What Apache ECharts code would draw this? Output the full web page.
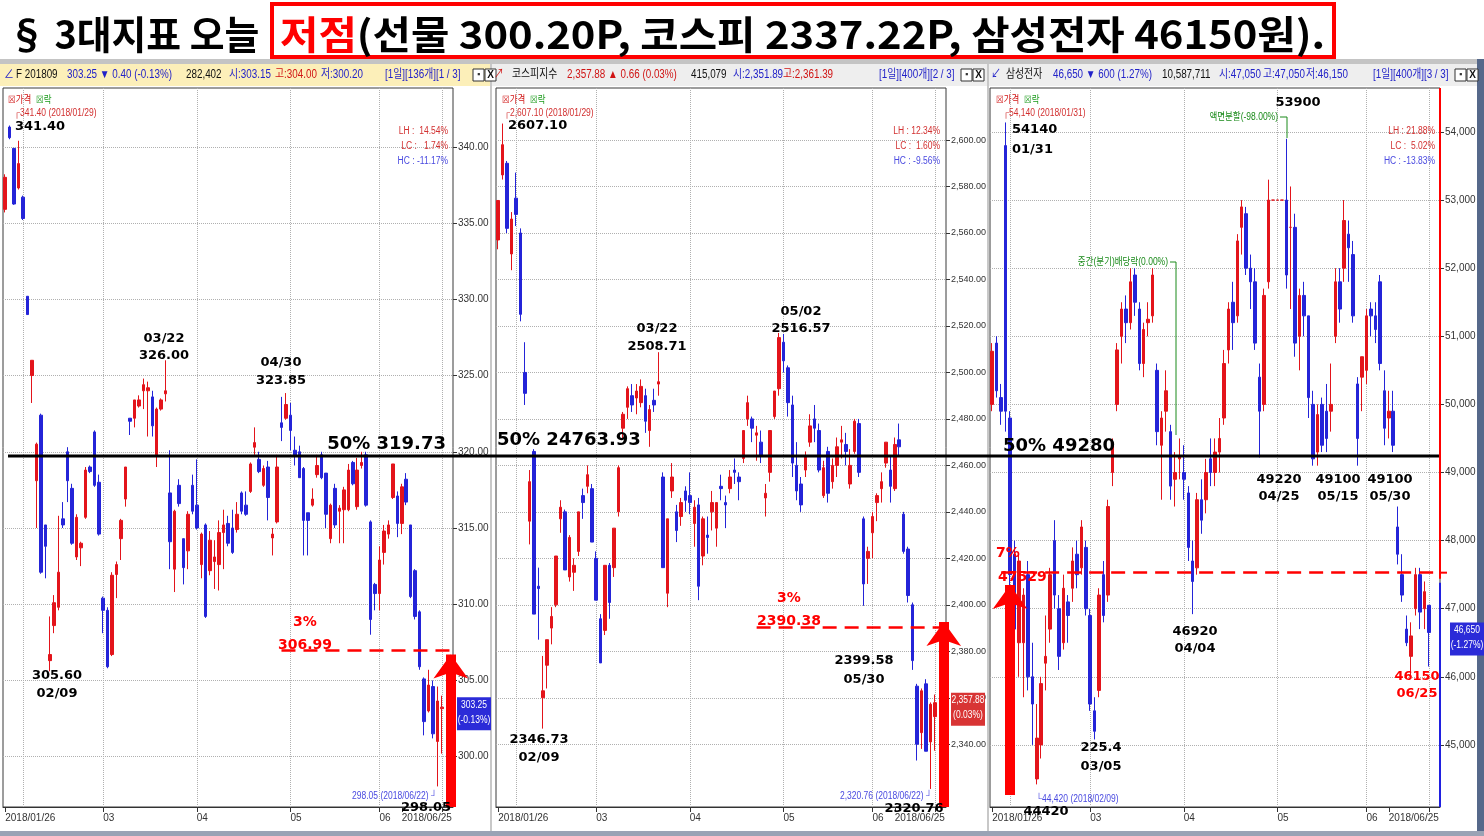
<!DOCTYPE html>
<html><head><meta charset="utf-8">
<script src="https://cdn.jsdelivr.net/npm/echarts@6/dist/echarts.min.js"></script>
<style>html,body{margin:0;padding:0;background:#fff}#c{width:1484px;height:836px}</style>
</head><body><div id="c"></div><script>
// ---------- DATA ----------
const dates = [
 '2018/01/26','2018/01/29','2018/01/30','2018/01/31',
 '2018/02/01','2018/02/02','2018/02/05','2018/02/06','2018/02/07','2018/02/08','2018/02/09','2018/02/12','2018/02/13','2018/02/14','2018/02/19','2018/02/20','2018/02/21','2018/02/22','2018/02/23','2018/02/26','2018/02/27','2018/02/28',
 '2018/03/02','2018/03/05','2018/03/06','2018/03/07','2018/03/08','2018/03/09','2018/03/12','2018/03/13','2018/03/14','2018/03/15','2018/03/16','2018/03/19','2018/03/20','2018/03/21','2018/03/22','2018/03/23','2018/03/26','2018/03/27','2018/03/28','2018/03/29','2018/03/30',
 '2018/04/02','2018/04/03','2018/04/04','2018/04/05','2018/04/06','2018/04/09','2018/04/10','2018/04/11','2018/04/12','2018/04/13','2018/04/16','2018/04/17','2018/04/18','2018/04/19','2018/04/20','2018/04/23','2018/04/24','2018/04/25','2018/04/26','2018/04/27','2018/04/30',
 '2018/05/02','2018/05/03','2018/05/04','2018/05/08','2018/05/09','2018/05/10','2018/05/11','2018/05/14','2018/05/15','2018/05/16','2018/05/17','2018/05/18','2018/05/21','2018/05/23','2018/05/24','2018/05/25','2018/05/28','2018/05/29','2018/05/30','2018/05/31',
 '2018/06/01','2018/06/04','2018/06/05','2018/06/07','2018/06/08','2018/06/11','2018/06/12','2018/06/14','2018/06/15','2018/06/18','2018/06/19','2018/06/20','2018/06/21','2018/06/22','2018/06/25'
];
// [open, close, low, high]
const futuresOHLC = [
 [335.9,338.0,335.7,338.2],[341.3,340.6,340.5,341.4],[339.9,336.25,336.2,339.9],[337.3,338.9,337.2,340.4],
 [336.7,335.3,335.2,336.8],[330.2,329.0,329.0,330.2],[325.0,326.0,323.2,326.0],[318.1,320.5,315.0,320.6],[322.4,312.1,312.0,322.5],[315.2,313.8,311.7,315.2],[306.3,306.7,305.6,309.2],[308.6,310.1,308.1,310.6],[309.8,312.1,309.6,315.8],[315.6,315.2,315.0,316.7],[320.0,318.1,316.7,320.3],[317.6,314.0,313.9,317.9],[313.1,315.7,312.9,315.9],[313.7,314.0,312.5,314.1],[315.7,318.8,315.6,319.0],[319.0,318.7,318.6,319.1],[321.3,317.8,317.7,321.4],[318.0,314.6,314.5,318.5],
 [310.4,309.6,308.1,310.5],[309.6,305.9,305.8,309.8],[306.7,311.9,306.6,312.1],[311.95,312.6,310.4,312.8],[314.3,315.5,312.9,315.6],[316.9,319.0,316.4,319.0],[322.2,322.0,321.1,322.2],[322.2,323.4,321.6,323.4],[323.0,323.4,322.9,323.7],[324.0,324.4,322.8,324.8],[324.0,324.2,321.0,324.6],[323.6,321.7,321.0,324.0],[319.8,322.8,319.0,322.9],[322.8,323.4,322.7,323.5],[323.8,324.0,323.3,326.0],[317.3,314.1,312.3,320.1],[312.3,316.1,310.8,316.2],[317.8,316.6,316.4,318.2],[314.3,312.4,311.3,314.3],[313.5,315.9,312.3,316.1],[317.8,316.1,315.9,318.5],
 [316.5,315.0,314.9,319.5],[312.6,314.6,311.7,314.7],[315.2,309.2,309.1,315.3],[312.2,314.2,311.9,314.8],[312.8,313.1,311.0,314.2],[312.6,314.7,310.9,315.5],[314.7,315.2,312.3,316.2],[315.3,314.0,313.8,315.8],[315.0,313.4,313.3,316.2],[314.9,315.9,314.7,316.7],[317.3,316.1,315.9,317.4],[316.5,315.9,315.8,317.4],[317.4,319.2,317.3,319.3],[320.3,320.6,319.8,321.6],[319.5,318.7,318.6,320.0],[317.8,318.9,317.7,319.1],[319.0,317.0,315.5,319.4],[314.35,314.6,313.2,315.0],[315.4,319.0,315.3,319.8],[321.9,321.6,320.7,323.6],[322.2,323.1,322.1,323.85],
 [322.4,321.4,320.1,323.2],[320.1,319.7,319.1,321.0],[320.0,318.3,318.3,320.4],[318.9,315.5,313.2,319.0],[316.0,315.5,313.2,316.0],[316.5,316.9,316.4,317.6],[318.5,319.1,318.3,319.8],[319.8,318.3,318.2,320.0],[318.6,315.9,315.0,318.6],[314.3,316.5,314.0,316.6],[317.6,315.2,315.0,317.9],[316.1,316.3,314.0,316.5],[316.2,317.5,314.0,317.7],[316.2,318.8,316.1,319.2],[319.3,317.9,317.8,319.4],[316.4,318.8,316.2,319.6],[319.1,319.3,318.9,320.0],[319.8,316.5,316.4,320.0],[315.4,309.0,308.0,315.5],[311.3,310.7,309.6,311.4],
 [310.7,312.9,309.6,313.8],[313.4,314.8,312.6,315.2],[314.6,315.2,314.3,315.5],[317.0,319.2,316.9,319.2],[317.1,315.3,314.4,317.4],[315.3,317.7,314.6,317.9],[318.2,316.7,316.5,318.6],[315.2,310.5,310.4,315.2],[312.2,309.2,309.0,312.3],[309.5,305.9,305.7,309.6],[305.1,302.3,301.4,305.2],[303.0,304.7,302.9,305.7],[304.6,301.5,301.2,305.0],[301.0,303.65,298.05,304.6],[303.15,303.25,300.2,304.0]
];
const kospiOHLC = [
 [2557,2574,2553,2574],[2585,2598,2583,2607.1],[2590,2562,2560,2591],[2551,2566,2544,2569],
 [2575,2568,2563,2586],[2560,2525,2522,2562],[2500,2491,2486,2513],[2436,2453,2426,2458],[2466,2396,2396,2467],[2408,2407,2385,2416],[2360,2363,2346.73,2378],[2374,2385,2364,2385],[2390,2395,2383,2399],[2400,2421,2399,2421],[2437,2442,2431,2445],[2440,2415,2415,2441],[2412,2429,2410,2430],[2414,2417,2406,2420],[2423,2440,2421,2440],[2447,2444,2437,2450],[2451,2456,2448,2460],[2450,2427,2427,2452],
 [2420,2402,2402,2423],[2394,2375,2375,2396],[2389,2417,2387,2417],[2417,2401,2394,2418],[2416,2433,2412,2433],[2440,2459,2438,2460],[2476,2482,2471,2483],[2485,2493,2480,2494],[2490,2486,2483,2495],[2489,2492,2482,2495],[2487,2494,2485,2497],[2490,2479,2474,2493],[2475,2484,2468,2486],[2488,2486,2483,2493],[2495,2496,2490,2508.71],[2455,2416,2416,2457],[2405,2437,2399,2437],[2449,2455,2446,2461],[2440,2432,2427,2443],[2438,2444,2434,2446],[2449,2445,2440,2451],
 [2447,2444,2439,2457],[2435,2442,2425,2445],[2443,2408,2402,2446],[2421,2437,2417,2438],[2430,2429,2422,2438],[2440,2444,2432,2449],[2433,2444,2425,2444],[2451,2450,2445,2456],[2444,2443,2433,2447],[2450,2455,2448,2458],[2458,2457,2452,2463],[2455,2453,2445,2457],[2463,2475,2461,2475],[2480,2487,2477,2490],[2480,2476,2470,2481],[2473,2474,2462,2477],[2470,2464,2461,2475],[2446,2448,2438,2452],[2457,2475,2453,2475],[2481,2492,2480,2492],[2493,2515,2490,2517],
 [2513,2505,2500,2516.57],[2502,2487,2481,2503],[2486,2461,2455,2490],[2460,2449,2445,2470],[2452,2443,2440,2455],[2458,2464,2455,2466],[2470,2477,2468,2482],[2480,2476,2470,2486],[2475,2458,2457,2478],[2447,2459,2446,2462],[2466,2448,2444,2468],[2453,2460,2450,2463],[2460,2468,2455,2472],[2470,2471,2463,2477],[2469,2466,2460,2474],[2452,2460,2450,2467],[2466,2479,2465,2480],[2478,2457,2455,2480],[2437,2409,2399.58,2438],[2420,2423,2409,2425],
 [2431,2438,2420,2440],[2444,2447,2436,2448],[2450,2453,2444,2457],[2461,2470,2459,2470],[2458,2451,2444,2464],[2450,2469,2449,2472],[2471,2468,2464,2478],[2439,2423,2422,2440],[2424,2404,2401,2425],[2400,2376,2372,2401],[2365,2340,2333,2366],[2345,2363,2338,2364],[2366,2337,2337,2368],[2341,2357.22,2320.76,2358],[2351.89,2357.88,2337.22,2361.39]
];
const samsungOHLC = [
 [50000,50780,49900,50900],[50900,50200,50100,51000],[50100,49900,49700,50300],[53800,49900,49600,54140],
 [49800,47500,47300,49900],[47800,46700,46500,48000],[46500,47700,46000,47800],[46500,47200,45700,47300],[47500,46000,45800,47700],[46000,45600,45000,46500],[44500,45100,44420,45600],[45000,45900,44800,46000],[46200,46300,45800,46900],[46700,47500,46500,47600],[48000,47200,47000,48300],[47000,46300,46100,47200],[46500,47300,46400,47500],[47100,46900,46500,47200],[47300,47700,47100,47900],[47800,47500,47300,48000],[47600,48200,47500,48300],[47900,47000,46900,48000],
 [46900,45600,45500,47000],[45500,45200,45080,45700],[45800,47200,45700,47300],[47500,46900,46800,47700],[47200,48500,47100,48600],[49000,49400,48800,49500],[50000,50800,49900,50900],[51000,51400,50600,51500],[51400,51200,50900,51600],[51200,51800,51100,52000],[51900,51500,51300,52000],[51400,50600,50500,51500],[50600,51100,50400,51200],[51200,51250,51000,51500],[51300,51900,51200,52000],[50500,49600,49400,50600],[49400,49800,48600,49900],[49900,50200,49600,50500],[49600,48800,48600,49700],[48900,49000,48500,49300],[49200,49250,48900,49500],
 [49000,48900,48600,49400],[48700,47900,47700,48800],[47700,47400,46920,48000],[47600,48600,47500,48700],[48600,48300,48100,48900],[48600,49000,48400,49200],[49200,49000,48800,49500],[49000,49300,48800,49500],[49300,49500,49000,49800],[49800,50600,49700,50800],[50800,51400,50600,51500],[51500,51200,50800,51800],[51300,52400,51200,52500],[52600,52900,52200,53000],[52800,52000,51900,52900],[52000,51800,51400,52200],[51800,50900,50800,52000],[50400,49900,49220,50600],[50000,51600,49900,51700],[51800,53000,51700,53300],[53000,53000,53000,53000],
 [53000,53000,53000,53000],[53000,53000,53000,53000],[53000,51900,51700,53900],[52600,52600,51400,53200],[52600,50900,50700,52800],[51000,51600,50500,51700],[51600,51300,51000,51800],[51300,50100,49800,51300],[50000,49200,49100,50200],[49300,49850,49100,50000],[50000,49400,49300,50100],[49900,49500,49300,50300],[49900,50000,49600,50600],[51000,51800,50900,52000],[51800,51400,51200,52000],[52000,52700,51800,53000],[52500,52300,51800,52700],[52200,51300,51200,52400],[50300,49500,49100,50400],[50400,50700,49900,50700],
 [50500,51300,50300,51400],[51400,51300,51000,51500],[51300,51100,50900,51500],[51800,50600,50500,51900],[50200,49650,49400,50500],[49800,49900,49500,50200],[49900,49400,49300,50200],[48200,47800,47650,48500],[47500,47200,47100,47800],[46700,46500,46450,46900],[46300,46600,46000,46800],[47000,47500,46900,47600],[47500,46950,46700,47600],[47000,47250,46700,47400],[47050,46650,46150,47050]
];
const futuresTicks = [300,305,310,315,320,325,330,335,340];
const kospiTicks = [2340,2360,2380,2400,2420,2440,2460,2480,2500,2520,2540,2560,2580,2600];
const samsungTicks = [45000,46000,47000,48000,49000,50000,51000,52000,53000,54000];
const yRanges = [[296.7,343.86],[2313,2622.4],[44088,54646]];
const fiftyPct = [319.73, 2476.39, 49280];
const dropLevels = [306.99, 2390.38, 47529];   // 3%, 3%, 7%
const lastPrice = [303.25, 2357.88, 46650];
const lastChange = ['(-0.13%)','(0.03%)','(-1.27%)'];
const lastPriceText = ['303.25','2,357.88','46,650'];

// ---------- CHART ----------
const UP = '#e3141b', DOWN = '#2424d8';
const cats = dates.concat(['', ' ']);
const N = dates.length;
const labelMap = {0: dates[0], 22:'03', 43:'04', 64:'05', 84:'06', 89: dates[N-1]};
const gridIdx = new Set([4,22,43,64,84,98]);
const grids = [
  {left:3, right:1031, top:88, bottom:29},
  {left:496, right:538, top:88, bottom:29},
  {left:990, right:44, top:88, bottom:29}
];
const FONT_AX = '"Liberation Sans",sans-serif';
const yFmt = [
  v => v.toFixed(2),
  v => v.toLocaleString('en-US',{minimumFractionDigits:2,maximumFractionDigits:2}),
  v => v.toLocaleString('en-US')
];
const yFont = [10, 9, 10];
const yTicks = [futuresTicks, kospiTicks, samsungTicks];
const seriesData = [futuresOHLC, kospiOHLC, samsungOHLC];
const arrowCfg = [ // [category index, start value, tip value]
  [100, yRanges[0][0], 306.7],
  [100, yRanges[1][0], 2392.6],
  [4, 44264, 47348]
];
const dashStart = [62, 58, 2];

const option = {
  animation:false,
  backgroundColor:'#ffffff',
  grid: grids.map(g => Object.assign({show:true, borderColor:'#3a3a3a', borderWidth:1, backgroundColor:'transparent'}, g)),
  xAxis: grids.map((g,i) => ({
    type:'category', gridIndex:i, data:cats, boundaryGap:true,
    axisLine:{show:true, lineStyle:{color:'#333'}},
    axisTick:{show:true, alignWithLabel:true, interval:(idx)=> (idx in labelMap) || idx===N-1, length:5, lineStyle:{color:'#333'}},
    axisLabel:{show:true, interval:(idx)=> idx in labelMap, formatter:(v,idx)=> labelMap[idx] || '', align:'left', margin:6,
      fontSize:10, color:'#333', fontFamily:FONT_AX},
    splitLine:{show:true, alignWithLabel:true, interval:(idx)=> gridIdx.has(idx), lineStyle:{type:'dotted', color:'#b0b0b0'}}
  })),
  yAxis: grids.map((g,i) => ({
    type:'value', gridIndex:i, position:'right', min:yRanges[i][0], max:yRanges[i][1],
    axisLine:{show:false},
    axisTick:{show:true, customValues:yTicks[i], length:4, lineStyle:{color:'#333'}},
    axisLabel:{customValues:yTicks[i], formatter:yFmt[i], fontSize:yFont[i], color:'#333', margin:5, fontFamily:FONT_AX},
    splitLine:{show:true, lineStyle:{type:'dotted', color:'#b0b0b0'}}
  })),
  series: seriesData.map((d,i) => ({
    type:'candlestick', xAxisIndex:i, yAxisIndex:i, data:d, barWidth:3,
    itemStyle:{color:UP, color0:DOWN, borderColor:UP, borderColor0:DOWN, borderWidth:1},
    markLine:{
      silent:true, symbol:['none','none'], label:{show:false}, animation:false,
      data:[
        [{coord:[dashStart[i], dropLevels[i]], lineStyle:{color:'#ff0000', type:[14,8], width:2.5}},
         {coord:[100, dropLevels[i]]}],
        [{coord:[arrowCfg[i][0], arrowCfg[i][1]], symbol:'none', lineStyle:{color:'#ff0000', type:'solid', width:10}},
         {coord:[arrowCfg[i][0], arrowCfg[i][2]], symbol:'arrow', symbolSize:[26,24]}]
      ]
    }
  }))
};

const chart = echarts.init(document.getElementById('c'), null, {renderer:'canvas'});
chart.setOption(option);

// ---------- ANNOTATIONS ----------
const yPx = (i,v) => chart.convertToPixel({yAxisIndex:i}, v);
const G = [];
const KR = '"Liberation Sans","Noto Sans CJK KR",sans-serif';
function T(x,y,text,fill,font,align,sx){ G.push({type:'text', x, y, z:50, scaleX:sx||1, silent:true, style:{text, fill:fill||'#000', font:font||('bold 13px "DejaVu Sans",sans-serif'), textAlign:align||'center', textVerticalAlign:'middle'}}); }
function R(x,y,w,h,fill,stroke,lw,z){ G.push({type:'rect', z:z||5, silent:true, shape:{x,y,width:w,height:h}, style:{fill:fill||'none', stroke:stroke||'none', lineWidth:lw||1}}); }
function L(x1,y1,x2,y2,stroke,lw,z){ G.push({type:'line', z:z||40, silent:true, shape:{x1,y1,x2,y2}, style:{stroke, lineWidth:lw||1}}); }
function P(pts,stroke){ G.push({type:'polyline', z:40, silent:true, shape:{points:pts}, style:{stroke, fill:'none', lineWidth:1}}); }

// window chrome
R(0,59,1484,5,'#c4c4c4');
R(1477,59,7,777,'#56688a','none',1,6);
R(0,831,1484,5,'#9aa3b5','none',1,6);
R(490,64,2,767,'#c8c8c8');
R(987,64,2,767,'#c8c8c8');
// title
const TF = 'bold 39px "Noto Sans CJK KR",sans-serif';
T(8,34,'§ 3대지표 오늘','#000',TF,'left',0.97);
R(272,4,1062,53,'none','#ff0000',4,20);
G.push({type:'text', x:280, y:34, z:50, scaleX:1.07, silent:true, style:{text:'{r|저점}(선물 300.20P, 코스피 2337.22P, 삼성전자 46150원).', font:TF, fill:'#000', textAlign:'left', textVerticalAlign:'middle', rich:{r:{fill:'#ff0000', font:TF}}}});

// headers
R(0,64,490,22,'#fcefb9');
R(492,64,495,22,'#eeeeee');
R(989,64,488,22,'#eeeeee');
const HF = '12px '+KR, BL = '#2222c8', RD = '#d01414', HS = 0.82;
function H(x,t,c){ T(x,75,t,c,HF,'left',HS); }
H(4,'∠',BL); H(16,'F 201809','#111'); H(67,'303.25 ▼ 0.40 (-0.13%)',BL); H(186,'282,402','#111'); H(229,'시:303.15',BL); H(275,'고:304.00',RD); H(321,'저:300.20',BL); H(385,'[1일][136개][1 / 3]',BL);
H(494,'↗',RD); H(512,'코스피지수','#111'); H(567,'2,357.88 ▲ 0.66 (0.03%)',RD); H(691,'415,079','#111'); H(733,'시:2,351.89',BL); H(783,'고:2,361.39',RD); H(879,'[1일][400개][2 / 3]',BL);
H(991,'↙',BL); H(1006,'삼성전자','#111'); H(1053,'46,650 ▼ 600 (1.27%)',BL); H(1162,'10,587,711','#111'); H(1219,'시:47,050',BL); H(1263,'고:47,050',BL); H(1306,'저:46,150',BL); H(1373,'[1일][400개][3 / 3]',BL);
[[473,485],[961,973],[1455,1467]].forEach(([a,b])=>{ R(a,69,11,12,'#fff','#333',1,8); T(a+5.5,75,'▪','#333','9px sans-serif'); R(b,69,11,12,'#fff','#333',1,8); T(b+5.5,75.5,'X','#111','bold 10px sans-serif'); });

// small software texts
const SF = '10px '+KR, SS = 0.85;
[8,502,996].forEach(x=>{ T(x,100,'☒가격','#d01414',SF,'left',SS); T(x+28,100,'☒락','#1a9a1a',SF,'left',SS); });
T(14,113,'┌341.40 (2018/01/29)','#d23030',SF,'left',SS);
T(504,113,'┌2,607.10 (2018/01/29)','#d23030',SF,'left',SS);
T(1003,113,'┌54,140 (2018/01/31)','#d23030',SF,'left',SS);
T(437,796,'298.05 (2018/06/22) ┘','#4a4ae0',SF,'right',SS);
T(932,796,'2,320.76 (2018/06/22) ┘','#4a4ae0',SF,'right',SS);
T(1036,799,'└44,420 (2018/02/09)','#4a4ae0',SF,'left',SS);
function LHC(xr, a, b, c){ T(xr,131,a,'#d23030',SF,'right',SS); T(xr,146,b,'#d23030',SF,'right',SS); T(xr,161,c,'#4a4ae0',SF,'right',SS); }
LHC(448,'LH :  14.54%','LC :   1.74%','HC : -11.17%');
LHC(940,'LH : 12.34%','LC :  1.60%','HC : -9.56%');
LHC(1435,'LH : 21.88%','LC :  5.02%','HC : -13.83%');
T(1278,117,'액면분할(-98.00%)','#1a8a1a',SF,'right',SS);
P([[1280,117],[1287,117],[1287,138]],'#1a8a1a');
T(1168,262,'중간(분기)배당락(0.00%)','#1a8a1a',SF,'right',SS);
P([[1170,262],[1176,262],[1176,435]],'#1a8a1a');

// bold annotations
const BF = 'bold 13px "DejaVu Sans",sans-serif';
T(15,127,'341.40','#000',BF,'left');
T(164,339,'03/22'); T(164,356,'326.00');
T(281,363,'04/30'); T(281,381,'323.85');
T(57,676,'305.60'); T(57,694,'02/09');
T(426,808,'298.05');
T(508,126,'2607.10','#000',BF,'left');
T(657,329,'03/22'); T(657,347,'2508.71');
T(801,312,'05/02'); T(801,329,'2516.57');
T(539,740,'2346.73'); T(539,758,'02/09');
T(864,661,'2399.58'); T(864,680,'05/30');
T(914,809,'2320.76');
T(1298,103,'53900');
T(1012,130,'54140','#000',BF,'left'); T(1012,150,'01/31','#000',BF,'left');
T(1279,480,'49220'); T(1279,497,'04/25');
T(1338,480,'49100'); T(1338,497,'05/15');
T(1390,480,'49100'); T(1390,497,'05/30');
T(1195,632,'46920'); T(1195,649,'04/04');
T(1101,748,'225.4'); T(1101,767,'03/05');
T(1046,812,'44420');
T(1417,677,'46150','#ff0000'); T(1417,694,'06/25','#ff0000');
const RF = 'bold 14px "DejaVu Sans",sans-serif';
T(305,622,'3%','#ff0000',RF); T(305,645,'306.99','#ff0000',RF);
T(789,598,'3%','#ff0000',RF); T(789,621,'2390.38','#ff0000',RF);
T(996,553,'7%','#ff0000',RF,'left'); T(998,577,'47529','#ff0000',RF,'left');

// 50% line
const y50 = yPx(0, fiftyPct[0]);
L(8, y50, 1440, y50, '#000', 3, 30);
const FF = 'bold 18px "DejaVu Sans",sans-serif';
T(446,y50-12,'50% 319.73','#000',FF,'right');
T(497,y50-16,'50% 24763.93','#000',FF,'left');
T(1003,y50-10,'50% 49280','#000',FF,'left');

// last price tags
const tagX = [457, 951, 1450], tagC = ['#2b2bd8','#d83434','#2b2bd8'];
for (let i=0;i<3;i++){
  const y = yPx(i, lastPrice[i]);
  R(tagX[i], y-10, 34, 33, tagC[i], 'none', 1, 45);
  T(tagX[i]+17, y-2, lastPriceText[i], '#fff', '10px '+KR, 'center', 0.85);
  T(tagX[i]+17, y+13, lastChange[i], '#fff', '10px '+KR, 'center', 0.85);
}
// samsung right border
const ySplit = yPx(2, dropLevels[2]);
L(1440, 88, 1440, ySplit+6, '#ff0000', 2, 35);
L(1440, ySplit+10, 1440, 807, '#2020e0', 2, 35);
L(1440, ySplit, 1447, ySplit, '#ff0000', 2, 35);

chart.setOption({graphic: G});
</script></body></html>
